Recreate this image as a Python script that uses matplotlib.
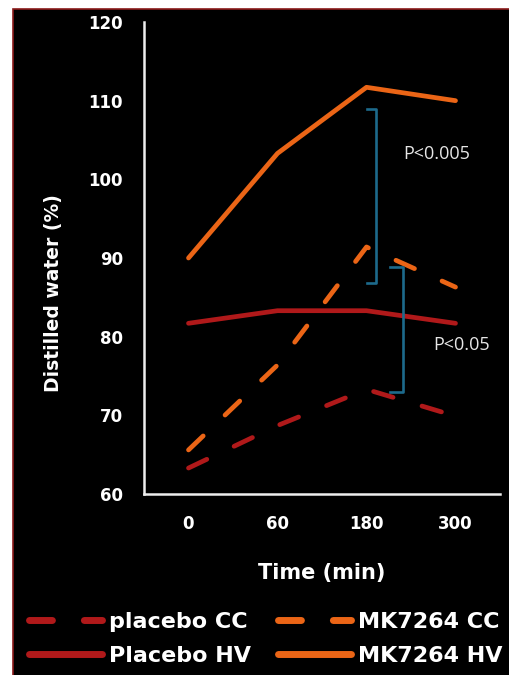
import matplotlib.pyplot as plt
from matplotlib.patches import Rectangle

# data
times = ["0", "60", "180", "300"]
placebo_cc = [63.3, 68.7, 73.3, 69.9]
mk7264_cc = [65.6, 76.4, 91.4, 86.3]
placebo_hv = [81.7, 83.3, 83.3, 81.7]
mk7264_hv = [90.0, 103.3, 111.7, 110.0]

dark_red = "#B0191A"
orange = "#EB6516"
bracket_col = "#1D6A8C"

plt.rcParams['font.family'] = ['DejaVu Sans']

fig = plt.figure(figsize=(5.1, 6.75), dpi=100)
fig.patch.set_facecolor("white")

# black panel with thin red frame
fig.patches.append(Rectangle((13 / 510, -0.01), 1.0, 1 - 9 / 675 + 0.01,
                             transform=fig.transFigure, facecolor="black",
                             edgecolor="#8B1A1A", lw=1.2, zorder=-10))

ax = fig.add_axes([144 / 510, 1 - 494 / 675, (500 - 144) / 510, (494 - 22) / 675])
ax.set_facecolor("none")

x = range(len(times))
dash = (0, (4.3, 6.4))
lw = 3.4
ax.plot(x, placebo_cc, color=dark_red, lw=lw, ls=dash, dash_capstyle="round", label="placebo CC")
ax.plot(x, placebo_hv, color=dark_red, lw=lw, solid_capstyle="round", label="Placebo HV")
ax.plot(x, mk7264_cc, color=orange, lw=lw, ls=dash, dash_capstyle="round", label="MK7264 CC")
ax.plot(x, mk7264_hv, color=orange, lw=lw, solid_capstyle="round", label="MK7264 HV")

# significance brackets
ax.plot([2.0, 2.11, 2.11, 2.0], [108.9, 108.9, 86.8, 86.8], color=bracket_col, lw=1.9)
ax.plot([2.26, 2.41, 2.41, 2.26], [88.8, 88.8, 73.0, 73.0], color=bracket_col, lw=1.9)
ax.text(2.79, 103.2, "P<0.005", color="#E6E6E6", fontsize=13, family="Open Sans",
        ha="center", va="center")
ax.text(3.07, 78.9, "P<0.05", color="#E6E6E6", fontsize=13, family="Open Sans",
        ha="center", va="center")

ax.set_xlim(-0.5, 3.5)
ax.set_ylim(60, 120)
ax.set_yticks(range(60, 121, 10))
ax.set_xticks(list(x))
ax.set_xticklabels(times)
ax.tick_params(length=0, colors="white", labelsize=12, pad=15)
for t in ax.get_xticklabels() + ax.get_yticklabels():
    t.set_fontweight("bold")
for s in ["top", "right"]:
    ax.spines[s].set_visible(False)
for s in ["left", "bottom"]:
    ax.spines[s].set_color("#EEEEEE")
    ax.spines[s].set_linewidth(1.8)

ax.set_xlabel("Time (min)", color="white", fontsize=15, fontweight="bold", labelpad=22)
ax.set_ylabel("Distilled water (%)", color="white", fontsize=13.5, fontweight="bold")
ax.yaxis.set_label_coords(-0.228, 0.426)

leg = fig.legend(loc="upper left", bbox_to_anchor=(29 / 510, 1 - 612 / 675), ncol=2,
                 frameon=False, fontsize=16, handlelength=3.3, handletextpad=0.3,
                 columnspacing=1.2, labelspacing=0.62, borderaxespad=0, borderpad=0)
for t in leg.get_texts():
    t.set_color("white")
    t.set_fontweight("bold")
for h in leg.get_lines():
    h.set_linewidth(5)
    if h.get_label() in ("placebo CC", "MK7264 CC"):
        h.set_linestyle((0, (3.3, 4.6)))

fig.savefig("out.png", dpi=100, facecolor=fig.get_facecolor())
